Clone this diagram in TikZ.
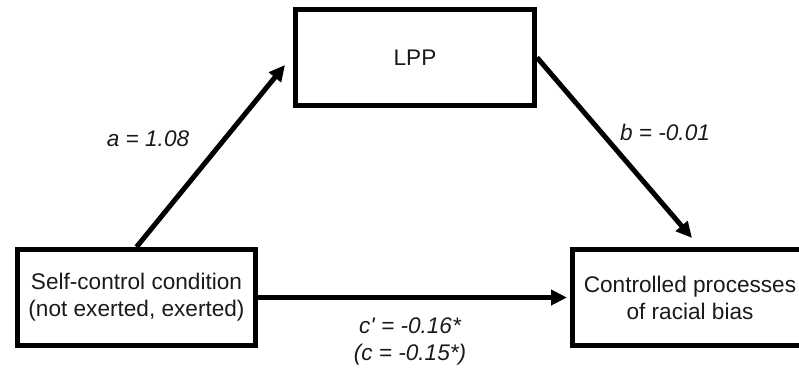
\documentclass[tikz,border=0pt]{standalone}
\usepackage{fontspec}
\setmainfont{Liberation Sans}
\usetikzlibrary{arrows.meta}
\definecolor{txt}{HTML}{1A1A1A}
\begin{document}
\begin{tikzpicture}[x=1pt,y=-1pt,
  box/.style={draw=black,line width=5pt,inner sep=0pt,fill=white,align=center,
    text=txt,font=\fontsize{22.6}{27}\selectfont},
  arr/.style={line width=5pt,-{Triangle[length=16pt,width=15pt]}},
  lab/.style={text=txt,font=\fontsize{22.6}{27}\selectfont\itshape,align=center,inner sep=0pt}]
\useasboundingbox (0,0) rectangle (799,372);
\clip (0,0) rectangle (799,372);
\node[box,minimum width=238pt,minimum height=96pt] (left) at (136.5,297.5)
  {Self-control condition\\(not exerted, exerted)};
\node[box,minimum width=239pt,minimum height=96pt] (lpp) at (415,57.5) {LPP};
\node[box,minimum width=235pt,minimum height=96pt] (right) at (690,297.5)
  {Controlled processes\\of racial bias};
\draw[arr] (left.north) -- ([xshift=-8pt,yshift=-7.5pt]lpp.west);
\draw[arr] (lpp.east) -- ([xshift=2pt,yshift=9pt]right.north);
\draw[arr] (left.east) -- ([xshift=-3pt]right.west);
\node[lab] (la) at (148,139) {a = 1.08};
\node[lab] (lb) at (665,132) {b = -0.01};
\node[lab] (lc) at (410,341) {c\textquotesingle{} = -0.16*\\(c = -0.15*)};
\end{tikzpicture}
\end{document}
